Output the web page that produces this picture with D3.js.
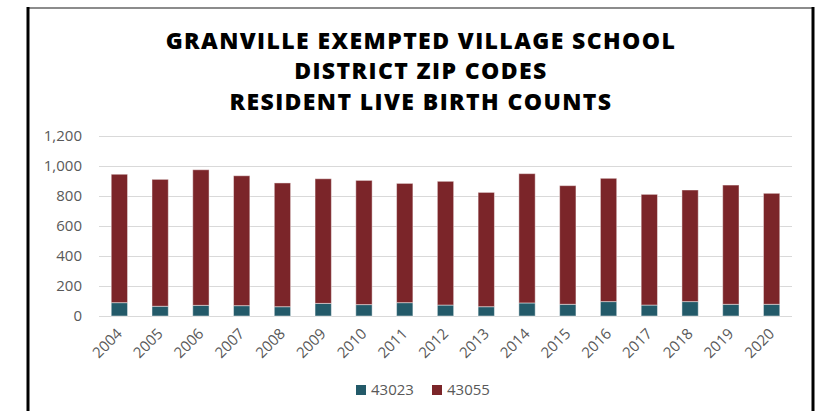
<!DOCTYPE html>
<html>
<head>
<meta charset="utf-8">
<script src="https://cdn.jsdelivr.net/npm/d3@7"></script>
<style>
	body { margin: 0; background: #fff; }
	svg { display: block; font-family: "Open Sans", "Noto Sans", sans-serif; }
</style>
</head>
<body>
<svg id="chart"></svg>
<script>
var years = ['2004', '2005', '2006', '2007', '2008', '2009', '2010', '2011', '2012',
	'2013', '2014', '2015', '2016', '2017', '2018', '2019', '2020'];
var zip43023 = [89, 65, 71, 69, 62, 84, 76, 89, 73, 62, 87, 78, 96, 73, 96, 78, 78];
var zip43055 = [856, 846, 904, 866, 825, 831, 828, 795, 825, 762, 862, 791, 822, 738, 744, 795, 740];
var seriesNames = ['43023', '43055'];
var seriesColors = ['#235a69', '#7b2529'];
var yTicks = [0, 200, 400, 600, 800, 1000, 1200];
var titleLines = ['GRANVILLE EXEMPTED VILLAGE SCHOOL', 'DISTRICT ZIP CODES', 'RESIDENT LIVE BIRTH COUNTS'];

var w = 818,
	h = 411,
	margin = { left: 99, right: 26, top: 136, bottom: 95 },
	svg, x, y, stack, rows, plot;

svg = d3.select('#chart')
	.attr('width', w)
	.attr('height', h);

// frame
svg.append('line')
	.attr('x1', 28).attr('x2', 814).attr('y1', 8).attr('y2', 8)
	.attr('stroke', '#8c8c8c').attr('stroke-width', 2);
svg.append('line')
	.attr('x1', 28).attr('x2', 28).attr('y1', 7).attr('y2', h)
	.attr('stroke', '#000').attr('stroke-width', 3);
svg.append('line')
	.attr('x1', 813).attr('x2', 813).attr('y1', 7).attr('y2', h)
	.attr('stroke', '#000').attr('stroke-width', 3);

svg.append('text')
	.attr('text-anchor', 'middle')
	.attr('font-weight', 800)
	.attr('font-size', '23px')
	.attr('letter-spacing', '1.4px')
	.attr('fill', '#000')
	.selectAll('tspan')
	.data(titleLines)
	.enter()
	.append('tspan')
	.attr('x', 421)
	.attr('y', function (d, i) { return 48.5 + i * 30.5; })
	.text(function (d) { return d; });

x = d3.scaleBand()
	.domain(years)
	.range([margin.left, w - margin.right])
	.paddingInner(0.6)
	.paddingOuter(0.3);

y = d3.scaleLinear()
	.domain([0, 1200])
	.range([h - margin.bottom, margin.top]);

// gridlines
svg.append('g')
	.selectAll('line')
	.data(yTicks)
	.enter()
	.append('line')
	.attr('x1', margin.left)
	.attr('x2', w - margin.right)
	.attr('y1', function (d) { return y(d) + 0.5; })
	.attr('y2', function (d) { return y(d) + 0.5; })
	.attr('stroke', '#d9d9d9')
	.attr('stroke-width', 1);

// y axis labels
svg.append('g')
	.attr('transform', 'translate(' + (margin.left - 17) + ',0)')
	.call(d3.axisLeft(y).tickValues(yTicks).tickSize(0).tickPadding(0).tickFormat(d3.format(',')))
	.call(function (g) {
		g.select('.domain').remove();
		g.selectAll('text')
			.attr('font-family', '"Open Sans", sans-serif')
			.attr('font-size', '15px')
			.attr('fill', '#595959');
	});

rows = years.map(function (yr, i) {
	return { year: yr, '43023': zip43023[i], '43055': zip43055[i] };
});
stack = d3.stack().keys(seriesNames)(rows);

plot = svg.append('g');
plot.selectAll('g.series')
	.data(stack)
	.enter()
	.append('g')
	.attr('class', 'series')
	.attr('fill', function (d, i) { return seriesColors[i]; })
	.selectAll('rect')
	.data(function (d) { return d; })
	.enter()
	.append('rect')
	.attr('x', function (d) { return x(d.data.year); })
	.attr('width', x.bandwidth())
	.attr('y', function (d) { return y(d[1]); })
	.attr('height', function (d) { return y(d[0]) - y(d[1]); })
	.attr('stroke', '#fff')
	.attr('stroke-opacity', 0.45)
	.attr('stroke-width', 1);

// x labels
svg.append('g')
	.selectAll('text')
	.data(years)
	.enter()
	.append('text')
	.attr('transform', function (d) {
		return 'translate(' + (x(d) + x.bandwidth() / 2) + ',' + (h - margin.bottom + 15) + ') rotate(-45)';
	})
	.attr('text-anchor', 'end')
	.attr('dy', '0.35em')
	.attr('font-size', '15px')
	.attr('fill', '#595959')
	.text(function (d) { return d; });

// legend
var legend = svg.append('g')
	.selectAll('g')
	.data(seriesNames)
	.enter()
	.append('g')
	.attr('transform', function (d, i) { return 'translate(' + (356 + i * 76) + ',385)'; });
legend.append('rect')
	.attr('width', 10)
	.attr('height', 10)
	.attr('fill', function (d, i) { return seriesColors[i]; });
legend.append('text')
	.attr('x', 15)
	.attr('y', 10)
	.attr('font-size', '15px')
	.attr('fill', '#595959')
	.text(function (d) { return d; });
</script>
</body>
</html>
